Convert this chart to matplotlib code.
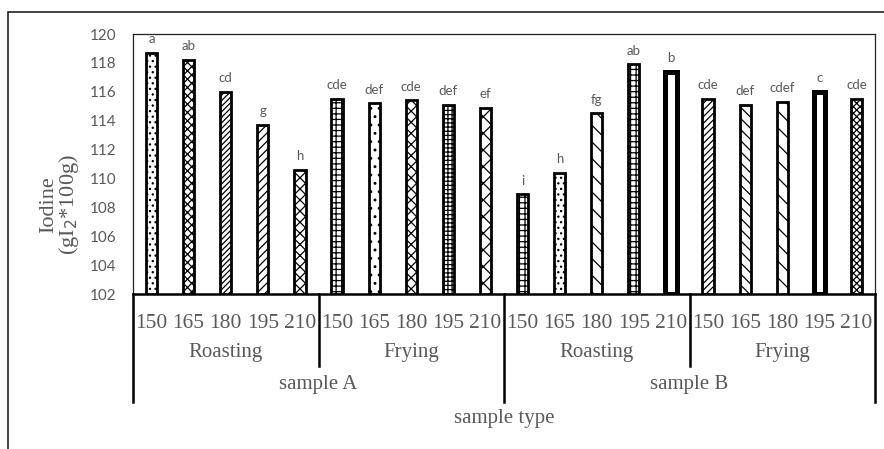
import matplotlib.pyplot as plt
import matplotlib.transforms as mtransforms
from matplotlib.patches import Rectangle

# data
temps = ["150", "165", "180", "195", "210"]
methods = ["Roasting", "Frying", "Roasting", "Frying"]
samples = ["sample A", "sample B"]
iodine = [118.7, 118.2, 116.0, 113.7, 110.6,
          115.5, 115.2, 115.4, 115.1, 114.9,
          108.9, 110.4, 114.5, 117.9, 117.4,
          115.5, 115.1, 115.3, 116.0, 115.5]
letters = ["a", "ab", "cd", "g", "h",
           "cde", "def", "cde", "def", "ef",
           "i", "h", "fg", "ab", "b",
           "cde", "def", "cdef", "c", "cde"]

# fill style per bar (None = white slot with heavy outline)
hatches = ["...", "xxxx", "//////", "////", "xxx",
           "+++", "..", "xxx", "++++", "xx",
           "+++", "...", "\\\\", "+++", None,
           "/////", "\\\\\\", "\\\\", None, "xxxxx"]

GREY = "#595959"
SERIF = "Liberation Serif"
SANS = "Lato"

plt.rcParams["hatch.linewidth"] = 0.9

W, H = 884, 449
fig = plt.figure(figsize=(W / 100, H / 100), dpi=100)
fig.patch.set_facecolor("white")

# outer chart frame (cropped at right and bottom in the reference)
fig.add_artist(Rectangle((8 / W, -0.1), 1.2, (H - 12) / H + 0.1,
                         transform=fig.transFigure, fill=False,
                         ec="#222222", lw=1.2))

left, right, top, bottom = 133, 875, 34, 294
ax = fig.add_axes([left / W, (H - bottom) / H, (right - left) / W, (bottom - top) / H])

n = len(iodine)
xs = list(range(n))
for x, v, h in zip(xs, iodine, hatches):
    if h is None:
        ax.bar(x, v - 102, bottom=102, width=0.3, color="white",
               edgecolor="black", lw=3.6, zorder=3)
    else:
        ax.bar(x, v - 102, bottom=102, width=0.3, color="white",
               edgecolor="black", hatch=h, lw=2.0, zorder=3)

for x, v, lab in zip(xs, iodine, letters):
    ax.annotate(lab, (x, v), xytext=(0, 5.5), textcoords="offset points",
                ha="center", va="bottom", fontsize=9.5, color=GREY,
                family=SANS, zorder=4)

ax.set_xlim(-0.5, n - 0.5)
ax.set_ylim(102, 120)
ax.set_yticks(range(102, 121, 2))
ax.tick_params(axis="y", length=0, pad=12, labelsize=11, labelcolor=GREY)
for t in ax.get_yticklabels():
    t.set_family(SANS)
ax.set_xticks([])

for side in ("top", "right", "left"):
    ax.spines[side].set_linewidth(0.9)
    ax.spines[side].set_color("#222222")
ax.spines["bottom"].set_linewidth(1.8)
ax.spines["bottom"].set_color("black")

# multi-level category axis
trans = mtransforms.blended_transform_factory(ax.transData, ax.transAxes)
span = bottom - top
def yax(py):
    return -(py - bottom) / span

for i, x in enumerate(xs):
    ax.text(x, yax(323), temps[i % len(temps)], transform=trans, ha="center",
            va="center", fontsize=15.5, color=GREY, family=SERIF)

for g, m in enumerate(methods):
    cx = g * 5 + 2
    ax.text(cx, yax(353), m, transform=trans, ha="center", va="center",
            fontsize=15, color=GREY, family=SERIF)
for s, name in enumerate(samples):
    cx = s * 10 + 4.5
    ax.text(cx, yax(384), name, transform=trans, ha="center", va="center",
            fontsize=15, color=GREY, family=SERIF)
ax.text(0.5, yax(418), "sample type", transform=ax.transAxes, ha="center",
        va="center", fontsize=15, color=GREY, family=SERIF)

for b in (4.5, 14.5):
    ax.plot([b, b], [0, yax(366)], transform=trans, color="black", lw=1.8,
            clip_on=False)
for b in (-0.5, 9.5, n - 0.5):
    ax.plot([b, b], [0, yax(402)], transform=trans, color="black", lw=1.8,
            clip_on=False)

fig.text(60 / W, (H - 205) / H, "Iodine\n(gI$_2$*100g)", rotation=90,
         ha="center", va="center", fontsize=16, color=GREY, family=SERIF,
         linespacing=0.95, multialignment="center")

fig.savefig("out.png", dpi=100)
